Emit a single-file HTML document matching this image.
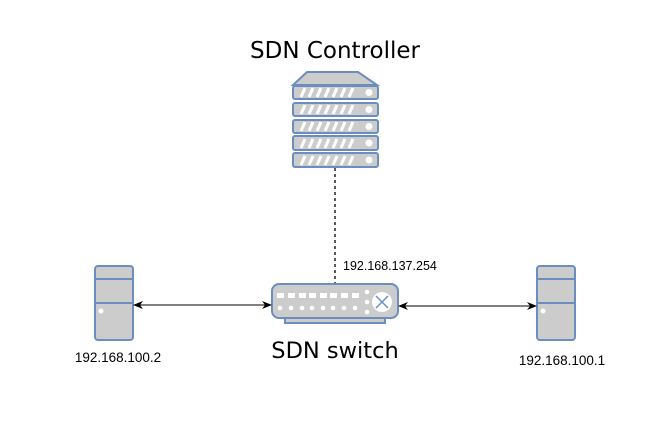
<!DOCTYPE html><html><head><style>body{margin:0;background:#fff}svg{display:block}</style></head><body>
<svg width="666" height="422" xmlns="http://www.w3.org/2000/svg" font-family="Liberation Sans, sans-serif">
<defs><marker id="a" markerWidth="10" markerHeight="8" refX="9" refY="4" orient="auto-start-reverse" markerUnits="userSpaceOnUse"><path d="M0,0 L10,4 L0,8 L3,4z" fill="#000"/></marker></defs>
<text x="335" y="58" font-size="23" text-anchor="middle" font-family="DejaVu Sans, sans-serif">SDN Controller</text>
<g stroke="#6c8ebf" stroke-width="2" fill="#cccccc">
<path d="M307,72 L358,72 L377,85 L293,85z"/>
<rect x="293" y="86" width="85" height="13" rx="2"/>
<rect x="293" y="103" width="85" height="13" rx="2"/>
<rect x="293" y="120" width="85" height="13" rx="2"/>
<rect x="293" y="136" width="85" height="14" rx="2"/>
<rect x="293" y="153" width="85" height="14" rx="2"/>
</g>
<g stroke="#fff" stroke-width="3">
<path d="M301,97 l4,-9 M309,97 l4,-9 M317,97 l4,-9 M325,97 l4,-9 M333,97 l4,-9 M341,97 l4,-9 M349,97 l4,-9"/>
<path d="M301,114 l4,-9 M309,114 l4,-9 M317,114 l4,-9 M325,114 l4,-9 M333,114 l4,-9 M341,114 l4,-9 M349,114 l4,-9"/>
<path d="M301,131 l4,-9 M309,131 l4,-9 M317,131 l4,-9 M325,131 l4,-9 M333,131 l4,-9 M341,131 l4,-9 M349,131 l4,-9"/>
<path d="M301,148 l4,-9 M309,148 l4,-9 M317,148 l4,-9 M325,148 l4,-9 M333,148 l4,-9 M341,148 l4,-9 M349,148 l4,-9"/>
<path d="M301,165 l4,-9 M309,165 l4,-9 M317,165 l4,-9 M325,165 l4,-9 M333,165 l4,-9 M341,165 l4,-9 M349,165 l4,-9"/>
</g>
<g fill="#fff"><circle cx="369" cy="92.5" r="3.5"/><circle cx="369" cy="109.5" r="3.5"/><circle cx="369" cy="126.5" r="3.5"/><circle cx="369" cy="143" r="3.5"/><circle cx="369" cy="160" r="3.5"/></g>
<line x1="335" y1="168" x2="335" y2="284" stroke="#000" stroke-width="1.3" stroke-dasharray="3,3"/>
<text x="343" y="270" font-size="12.5">192.168.137.254</text>
<g stroke="#6c8ebf" stroke-width="2" fill="#cccccc">
<rect x="285" y="317" width="100" height="6"/>
<rect x="272" y="284" width="126" height="34" rx="7"/>
</g>
<g fill="#fff">
<rect x="277" y="293" width="7" height="5"/><rect x="288" y="293" width="7" height="5"/><rect x="299" y="293" width="7" height="5"/><rect x="309" y="293" width="7" height="5"/><rect x="320" y="293" width="7" height="5"/><rect x="330" y="293" width="7" height="5"/><rect x="341" y="293" width="7" height="5"/><rect x="352" y="293" width="7" height="5"/>
<circle cx="280" cy="308" r="2.3"/><circle cx="291" cy="308" r="2.3"/><circle cx="302" cy="308" r="2.3"/><circle cx="312" cy="308" r="2.3"/><circle cx="323" cy="308" r="2.3"/><circle cx="333" cy="308" r="2.3"/><circle cx="344" cy="308" r="2.3"/><circle cx="355" cy="308" r="2.3"/>
<circle cx="367" cy="292" r="2.3"/><circle cx="367" cy="302" r="2.3"/><circle cx="367" cy="312" r="2.3"/>
<circle cx="382" cy="302" r="10"/>
</g>
<path d="M376,296 L388,308 M388,296 L376,308" stroke="#6c8ebf" stroke-width="1.5"/>
<text x="335" y="358" font-size="22.5" text-anchor="middle" font-family="DejaVu Sans, sans-serif">SDN switch</text>
<g stroke="#6c8ebf" stroke-width="2" fill="#cccccc">
<rect x="95" y="266" width="38" height="74" rx="3"/>
<path d="M95,279 H133 M95,303 H133"/>
<rect x="537" y="266" width="38" height="74" rx="3"/>
<path d="M537,279 H575 M537,303 H575"/>
</g>
<circle cx="101" cy="311" r="2.5" fill="#fff"/><circle cx="543" cy="311" r="2.5" fill="#fff"/>
<line x1="134" y1="305" x2="271" y2="305" stroke="#000" marker-start="url(#a)" marker-end="url(#a)"/>
<line x1="399" y1="306" x2="536" y2="306" stroke="#000" marker-start="url(#a)" marker-end="url(#a)"/>
<text x="118" y="362" font-size="13.5" text-anchor="middle">192.168.100.2</text>
<text x="562" y="365" font-size="13.5" text-anchor="middle">192.168.100.1</text>
</svg></body></html>
